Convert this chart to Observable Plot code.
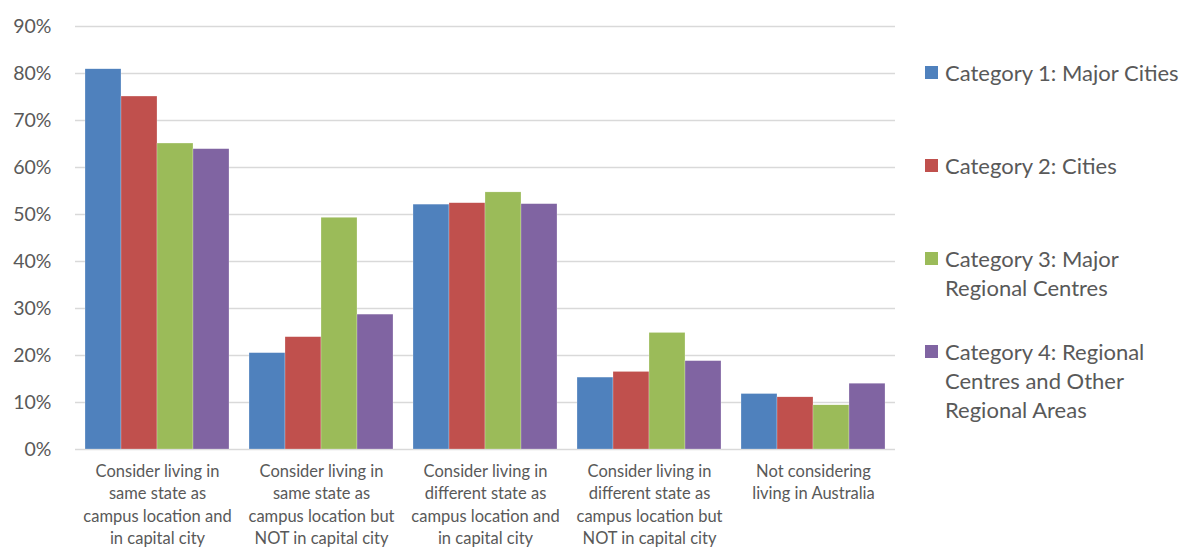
<!DOCTYPE html>
<html>
<head>
<meta charset="utf-8">
<script src="https://cdn.jsdelivr.net/npm/d3@7"></script>
<script src="https://cdn.jsdelivr.net/npm/@observablehq/plot@0.6"></script>
<style>
  html, body { margin: 0; padding: 0; background: #fff; }
  #wrap { position: relative; width: 1188px; height: 550px; font-family: Lato, "Open Sans", sans-serif; }
  #chart { position: absolute; left: 0; top: 0; }
  .leg { position: absolute; left: 925px; font-size: 22px; line-height: 29px; color: #595959; white-space: pre-line; }
  .sw { position: absolute; left: 0; top: 8px; width: 13px; height: 13px; }
  .lt { margin-left: 20px; }
</style>
</head>
<body>
<div id="wrap"><div id="chart"></div></div>
<script>
const categories = [
  "Consider living in same state as campus location and in capital city",
  "Consider living in same state as campus location but NOT in capital city",
  "Consider living in different state as campus location and in capital city",
  "Consider living in different state as campus location but NOT in capital city",
  "Not considering living in Australia"
];
const categoryLabels = [
  "Consider living in\nsame state as\ncampus location and\nin capital city",
  "Consider living in\nsame state as\ncampus location but\nNOT in capital city",
  "Consider living in\ndifferent state as\ncampus location and\nin capital city",
  "Consider living in\ndifferent state as\ncampus location but\nNOT in capital city",
  "Not considering\nliving in Australia"
];
const series = [
  "Category 1: Major Cities",
  "Category 2: Cities",
  "Category 3: Major Regional Centres",
  "Category 4: Regional Centres and Other Regional Areas"
];
const legendLabels = [
  "Category 1: Major Cities",
  "Category 2: Cities",
  "Category 3: Major\nRegional Centres",
  "Category 4: Regional\nCentres and Other\nRegional Areas"
];
const colors = ["#4F81BD", "#C0504D", "#9BBB59", "#8064A2"];
const cat1 = [80.9, 20.5, 52.1, 15.3, 11.8];
const cat2 = [75.1, 23.9, 52.4, 16.5, 11.1];
const cat3 = [65.1, 49.3, 54.7, 24.8, 9.4];
const cat4 = [63.9, 28.7, 52.2, 18.8, 14.0];
const yTicks = [0, 10, 20, 30, 40, 50, 60, 70, 80, 90];

const seriesValues = [cat1, cat2, cat3, cat4];
const data = [];
categories.forEach((c, i) => {
  series.forEach((s, j) => data.push({category: c, series: s, value: seriesValues[j][i]}));
});
const labelOf = new Map(categories.map((c, i) => [c, categoryLabels[i]]));

const chart = Plot.plot({
  width: 900,
  height: 550,
  marginLeft: 75,
  marginRight: 5,
  marginTop: 26,
  marginBottom: 101,
  style: {fontFamily: "Lato, 'Open Sans', sans-serif", background: "#fff"},
  fx: {domain: categories, paddingInner: 0.11, paddingOuter: 0.055, label: null, axis: null},
  x: {domain: series, padding: 0, axis: null},
  y: {domain: [0, 90], axis: null},
  color: {domain: series, range: colors},
  marks: [
    Plot.ruleY(yTicks, {stroke: "#d9d9d9", strokeWidth: 1.3, insetLeft: -9, insetRight: -9}),
    Plot.barY(data, {fx: "category", x: "series", y: "value", fill: "series", stroke: "#ffffff", strokeWidth: 0.4, strokeOpacity: 0.6}),
    Plot.axisY(yTicks, {tickSize: 0, tickPadding: 33, tickFormat: d => d + "%", fontSize: 19.5, fill: "#595959", label: null}),
    Plot.axisFx({anchor: "bottom", tickSize: 0, tickPadding: 11, tickFormat: d => labelOf.get(d), fontSize: 16.5, lineHeight: 1.37, fill: "#595959", label: null})
  ]
});
document.getElementById("chart").appendChild(chart);

const wrap = document.getElementById("wrap");
legendLabels.forEach((t, i) => {
  const d = document.createElement("div");
  d.className = "leg";
  d.style.top = (58 + i * 93) + "px";
  const sw = document.createElement("div");
  sw.className = "sw";
  sw.style.background = colors[i];
  const lt = document.createElement("div");
  lt.className = "lt";
  lt.textContent = t;
  d.appendChild(sw);
  d.appendChild(lt);
  wrap.appendChild(d);
});
</script>
</body>
</html>
